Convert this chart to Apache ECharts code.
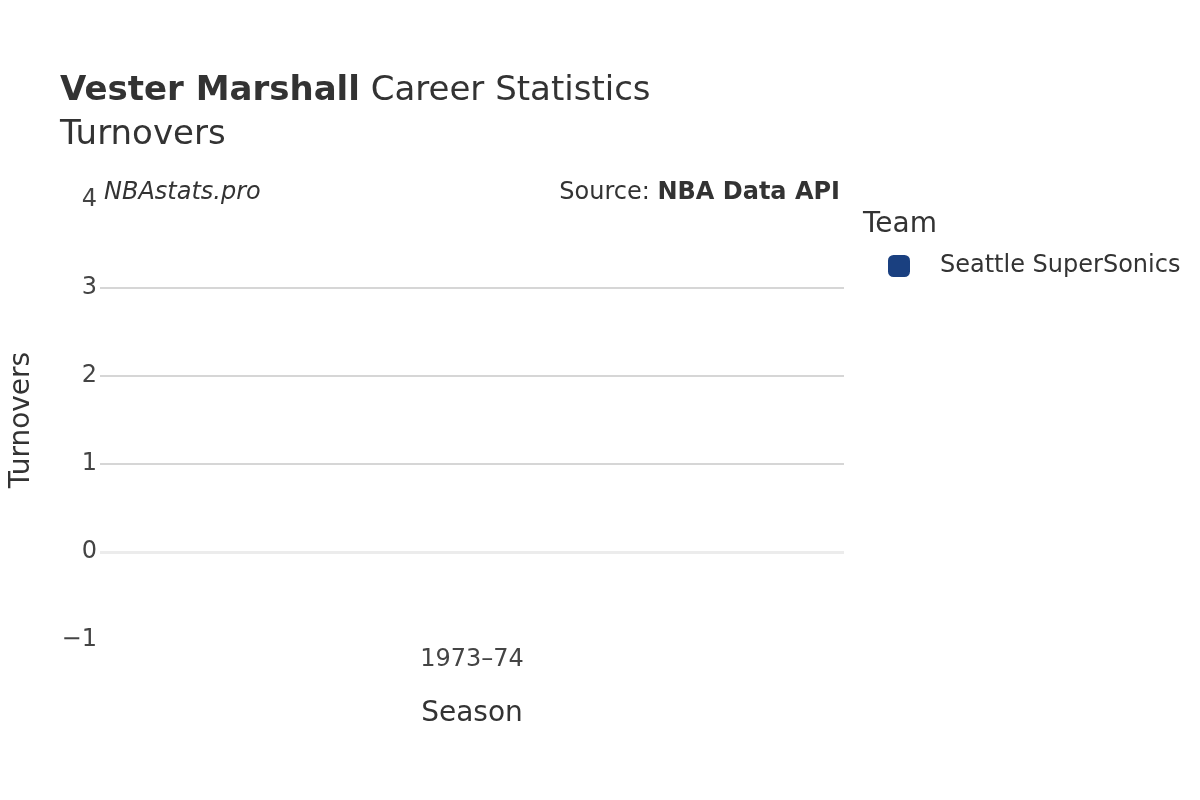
<!DOCTYPE html>
<html>
<head>
<meta charset="utf-8">
<script src="https://cdn.jsdelivr.net/npm/echarts@6/dist/echarts.min.js"></script>
<style>html,body{margin:0;padding:0;background:#fff;}#c{width:1200px;height:800px;}</style>
</head>
<body>
<div id="c"></div>
<script>
const seasons = ['1973–74'];
const teamName = 'Seattle SuperSonics';
const turnovers = [null];
const yTicks = { min: -1, max: 4, interval: 1 };

const FONT = 'DejaVu Sans';
const chart = echarts.init(document.getElementById('c'));
chart.setOption({
  backgroundColor: '#fff',
  textStyle: { fontFamily: FONT, color: '#333' },
  title: {
    left: 55, top: 64,
    text: '{b|Vester Marshall}{n| Career Statistics}\n{n|Turnovers}',
    textStyle: {
      fontFamily: FONT, fontWeight: 'normal',
      rich: {
        b: { fontFamily: FONT, fontWeight: 'bold', fontSize: 34, color: '#333', lineHeight: 44 },
        n: { fontFamily: FONT, fontWeight: 'normal', fontSize: 34, color: '#333', lineHeight: 44 }
      }
    }
  },
  legend: {
    left: 883, top: 249, orient: 'vertical',
    icon: 'roundRect', itemWidth: 22, itemHeight: 22, itemGap: 12,
    textStyle: { fontFamily: FONT, fontSize: 24, color: '#333', padding: [6, 0, 0, 25] },
    data: [teamName]
  },
  graphic: [
    { type: 'text', left: 863, top: 211, style: { text: 'Team', font: '28px "DejaVu Sans"', fill: '#333' } },
    { type: 'text', left: 104, top: 181, style: { text: 'NBAstats.pro', font: 'italic 24px "DejaVu Sans"', fill: '#333' } },
    { type: 'text', right: 360, top: 181, style: {
      text: '{n|Source: }{b|NBA Data API}',
      rich: {
        n: { font: '24px "DejaVu Sans"', fill: '#333' },
        b: { font: 'bold 24px "DejaVu Sans"', fill: '#333' }
      } } }
  ],
  grid: { left: 98, right: 356, top: 200, bottom: 160, containLabel: false },
  xAxis: {
    type: 'category', data: seasons,
    axisLine: { show: false }, axisTick: { show: false },
    axisLabel: { fontFamily: FONT, fontSize: 24, color: '#444', margin: 8 },
    name: 'Season', nameLocation: 'middle', nameGap: 60,
    nameTextStyle: { fontFamily: FONT, fontSize: 28, color: '#333' }
  },
  yAxis: {
    type: 'value', min: yTicks.min, max: yTicks.max, interval: yTicks.interval,
    axisLine: { show: false }, axisTick: { show: false },
    axisLabel: { fontFamily: FONT, fontSize: 24, color: '#444', margin: 3, padding: [4, 0, 0, 0],
      formatter: v => v < 0 ? '−' + Math.abs(v) : String(v) },
    splitLine: { show: true, showMinLine: false, showMaxLine: false,
      lineStyle: { color: ['transparent', '#c8c8c8', '#c8c8c8', '#c8c8c8'], width: 1.5 } },
    name: 'Turnovers', nameLocation: 'middle', nameGap: 64, nameRotate: 90,
    nameTextStyle: { fontFamily: FONT, fontSize: 28, color: '#333' }
  },
  series: [{
    name: teamName, type: 'line', data: turnovers,
    color: '#1a4080', symbol: 'circle', symbolSize: 10,
    markLine: {
      silent: true, symbol: 'none', label: { show: false },
      lineStyle: { color: '#ececec', width: 3, type: 'solid' },
      data: [{ yAxis: 0 }]
    }
  }]
});
</script>
</body>
</html>
